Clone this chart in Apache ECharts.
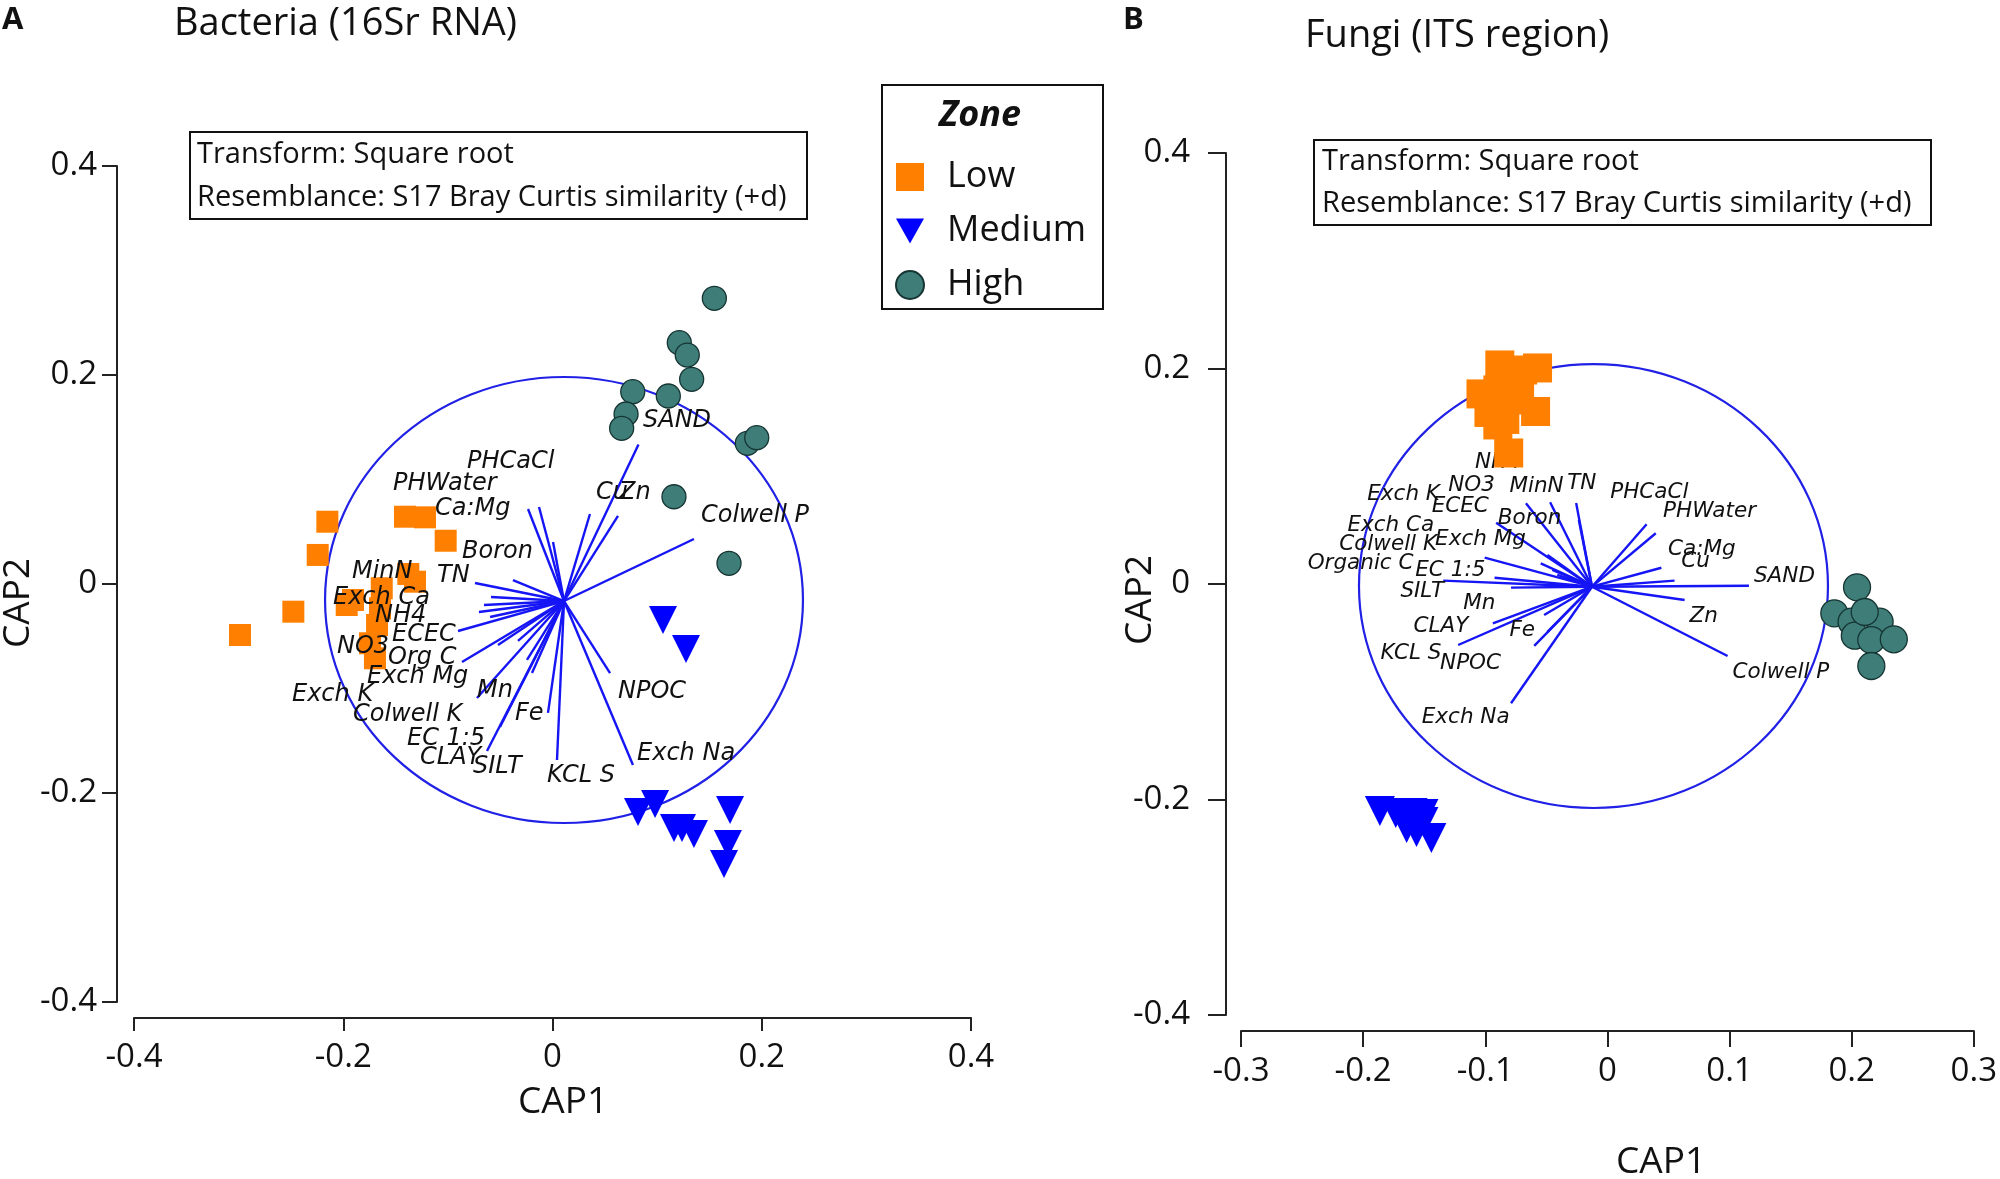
<!DOCTYPE html>
<html><head><meta charset="utf-8">
<script src="https://cdn.jsdelivr.net/npm/echarts@6/dist/echarts.min.js"></script>
<style>html,body{margin:0;padding:0;background:#fff}#c{width:2000px;height:1179px}</style>
</head><body><div id="c"></div><script>
// ---------- Panel A: Bacteria ----------
const bactLow = [[-0.2987,-0.0488],[-0.2477,-0.0265],[-0.2244,0.0278],[-0.2152,0.0596],[-0.1410,0.0644],[-0.1219,0.0638],[-0.1021,0.0414],[-0.1378,0.0096],[-0.1314,0.0022],[-0.1632,-0.0041],[-0.1907,-0.0153],[-0.1967,-0.0201],[-0.1649,-0.0233],[-0.1677,-0.0392],[-0.1744,-0.0567],[-0.1697,-0.0711]];
const bactMedium = [[0.1056,-0.0344],[0.1276,-0.0622],[0.0817,-0.2182],[0.0980,-0.2105],[0.1161,-0.2335],[0.1238,-0.2335],[0.1352,-0.2392],[0.1697,-0.2163],[0.1677,-0.2488],[0.1639,-0.2679]];
const bactHigh = [[0.1547,0.2734],[0.1212,0.2309],[0.1288,0.2191],[0.1330,0.1959],[0.0767,0.1840],[0.1107,0.1799],[0.0703,0.1627],[0.0661,0.1490],[0.1862,0.1346],[0.1952,0.1400],[0.1161,0.0835],[0.1687,0.0198]];
const bactOrigin = [0.0110, -0.0163];
const bactCircle = [0.0110, -0.0153, 0.2284, 0.2134];
const bactVarNames = ['SAND','Cu','Zn','Colwell P','PHCaCl','PHWater','Ca:Mg','Boron','TN','MinN','Exch Ca','NH4','ECEC','NO3','Org C','Exch Mg','Exch K','Colwell K','Mn','EC 1:5','CLAY','SILT','Fe','KCL S','NPOC','Exch Na'];
const bactVarEnds = [[0.0822,0.1335],[0.0358,0.0670],[0.0626,0.0651],[0.1352,0.0431],[-0.0129,0.0737],[-0.0234,0.0718],[0.0005,0.0402],[-0.0378,0.0038],[-0.0741,0.0010],[-0.0588,-0.0124],[-0.0655,-0.0201],[-0.0703,-0.0268],[-0.0903,-0.0450],[-0.0597,-0.0316],[-0.0865,-0.0746],[-0.0521,-0.0584],[-0.0330,-0.0545],[-0.0244,-0.0727],[-0.0722,-0.1091],[-0.0196,-0.0852],[-0.0626,-0.1598],[-0.0502,-0.1368],[-0.0043,-0.1234],[0.0043,-0.1684],[0.0550,-0.0852],[0.0769,-0.1732]];
const bactLabelAt = [[0.0865,0.1560],[0.0416,0.0871],[0.0636,0.0871],[0.1419,0.0651],[-0.0817,0.1167],[-0.1525,0.0957],[-0.1123,0.0718],[-0.0865,0.0306],[-0.1104,0.0077],[-0.1917,0.0115],[-0.2098,-0.0134],[-0.1697,-0.0306],[-0.1534,-0.0488],[-0.2060,-0.0603],[-0.1572,-0.0708],[-0.1773,-0.0890],[-0.2490,-0.1062],[-0.1907,-0.1254],[-0.0722,-0.1024],[-0.1391,-0.1483],[-0.1266,-0.1665],[-0.0760,-0.1751],[-0.0358,-0.1244],[-0.0053,-0.1837],[0.0626,-0.1033],[0.0808,-0.1627]];
const bactXTicks = {min:-0.4, max:0.4, step:0.2};
const bactYTicks = {min:-0.4, max:0.4, step:0.2};

// ---------- Panel B: Fungi ----------
const fungiLow = [[-0.0881,0.2033],[-0.0694,0.1986],[-0.0572,0.2005],[-0.1035,0.1764],[-0.0897,0.1801],[-0.0719,0.1754],[-0.0970,0.1592],[-0.0588,0.1601],[-0.0840,0.1527],[-0.0897,0.1476],[-0.0808,0.1216],[-0.0775,0.1708]];
const fungiMedium = [[-0.1863,-0.2107],[-0.1733,-0.2125],[-0.1668,-0.2172],[-0.1595,-0.2125],[-0.1506,-0.2135],[-0.1644,-0.2265],[-0.1563,-0.2302],[-0.1441,-0.2358],[-0.1506,-0.2209]];
const fungiHigh = [[0.2044,-0.0031],[0.1858,-0.0272],[0.1999,-0.0350],[0.2229,-0.0350],[0.2026,-0.0480],[0.2161,-0.0520],[0.2345,-0.0513],[0.2161,-0.0761],[0.2107,-0.0260]];
const fungiOrigin = [-0.0126, -0.0025];
const fungiCircle = [-0.0114, -0.0019, 0.1920, 0.2060];
const fungiVarNames = ['SAND','Ca:Mg','Cu','PHWater','PHCaCl','Zn','Colwell P','TN','NH4','MinN','NO3','Boron','Exch K','Exch Mg','ECEC','Exch Ca','Colwell K','EC 1:5','SILT','Organic C','Mn','CLAY','KCL S','Fe','NPOC','Exch Na'];
const fungiVarEnds = [[0.1159,-0.0016],[0.0442,0.0151],[0.0550,0.0031],[0.0396,0.0471],[0.0321,0.0554],[0.0632,-0.0148],[0.0984,-0.0668],[-0.0256,0.0752],[-0.0234,0.0594],[-0.0469,0.0758],[-0.0667,0.0749],[-0.0911,0.0569],[-0.0491,0.0269],[-0.1005,0.0244],[-0.0546,0.0192],[-0.0451,0.0130],[-0.0410,0.0084],[-0.0924,0.0058],[-0.1344,0.0031],[-0.0789,-0.0034],[-0.0938,-0.0365],[-0.1222,-0.0566],[-0.0518,-0.0288],[-0.0599,-0.0575],[-0.0491,-0.0445],[-0.0789,-0.1107]];
const fungiLabelAt = [[0.1200,0.0068],[0.0497,0.0325],[0.0605,0.0213],[0.0456,0.0671],[0.0023,0.0854],[0.0672,-0.0303],[0.1025,-0.0821],[-0.0329,0.0937],[-0.1084,0.1132],[-0.0802,0.0903],[-0.1303,0.0919],[-0.0897,0.0613],[-0.1966,0.0835],[-0.1411,0.0418],[-0.1439,0.0717],[-0.2129,0.0548],[-0.2196,0.0365],[-0.1573,0.0130],[-0.1695,-0.0071],[-0.2454,0.0192],[-0.1181,-0.0176],[-0.1587,-0.0396],[-0.1858,-0.0640],[-0.0802,-0.0427],[-0.1370,-0.0733],[-0.1520,-0.1234]];
const fungiXTicks = {min:-0.3, max:0.3, step:0.1};
const fungiYTicks = {min:-0.4, max:0.4, step:0.2};

const zoneNames = ['Low','Medium','High'];
const annotLines = ['Transform: Square root','Resemblance: S17 Bray Curtis similarity (+d)'];

// ---------- styles ----------
const SANS = '"Open Sans", "Noto Sans", sans-serif';
const ORANGE = '#ff8000', BLUE = '#0000ff', TEAL = '#3f7d79', VEC = '#1515f5';
const TRI_DOWN = 'path://M0,0 L20,0 L10,18 Z';

function ellipseRender(params, api){
  const c = api.coord([api.value(0), api.value(1)]);
  const s = api.size([api.value(2), api.value(3)]);
  return {type:'ellipse', shape:{cx:c[0], cy:c[1], rx:s[0], ry:s[1]}, style:{fill:null, stroke:'#2020e6', lineWidth:2.2}};
}
function vecRender(origin){
  return function(params, api){
    const o = api.coord(origin);
    const e = api.coord([api.value(0), api.value(1)]);
    return {type:'line', shape:{x1:o[0], y1:o[1], x2:e[0], y2:e[1]}, style:{stroke:VEC, lineWidth:2.4}};
  };
}
function labelRender(names, fontSize){
  return function(params, api){
    const p = api.coord([api.value(0), api.value(1)]);
    return {type:'text', x:p[0], y:p[1], style:{text:names[params.dataIndex], fill:'#111',
      font:'italic ' + fontSize + 'px "DejaVu Sans", sans-serif', align:'left', verticalAlign:'middle',
      textAlign:'left', textVerticalAlign:'middle'}};
  };
}
function axisX(t, idx, offset, tickLen, margin){
  return {type:'value', gridIndex:idx, min:t.min, max:t.max, interval:t.step, offset:offset,
    axisLine:{show:true, onZero:false, lineStyle:{color:'#222', width:2}},
    axisTick:{show:true, length:tickLen, lineStyle:{color:'#222', width:2}},
    axisLabel:{show:true, margin:margin, fontSize:33, fontFamily:SANS, color:'#111', showMinLabel:true, showMaxLabel:true},
    splitLine:{show:false}};
}
function axisY(t, idx, offset, tickLen, margin){
  return {type:'value', gridIndex:idx, min:t.min, max:t.max, interval:t.step, offset:offset,
    axisLine:{show:true, onZero:false, lineStyle:{color:'#222', width:2}},
    axisTick:{show:true, length:tickLen, lineStyle:{color:'#222', width:2}},
    axisLabel:{show:true, margin:margin, fontSize:33, fontFamily:SANS, color:'#111', showMinLabel:true, showMaxLabel:true},
    splitLine:{show:false}};
}
function panelSeries(idx, circle, origin, ends, labelAt, names, low, med, high, sizes, labelsOnTop, labelFont){
  const base = {xAxisIndex:idx, yAxisIndex:idx};
  return [
    Object.assign({type:'custom', name:'circle'+idx, renderItem:ellipseRender, data:[circle], z:1, silent:true, encode:{x:0,y:1}}, base),
    Object.assign({type:'custom', name:'vec'+idx, renderItem:vecRender(origin), data:ends, z:2, silent:true}, base),
    Object.assign({type:'custom', name:'lab'+idx, renderItem:labelRender(names, labelFont), data:labelAt, z:labelsOnTop?6:3, silent:true}, base),
    Object.assign({type:'scatter', name:zoneNames[0], data:low, symbol:'rect', symbolSize:sizes[0], itemStyle:{color:ORANGE, opacity:1}, z:4}, base),
    Object.assign({type:'scatter', name:zoneNames[1], data:med, symbol:'triangle', symbolRotate:180, symbolSize:sizes[1], itemStyle:{color:BLUE, opacity:1}, z:4}, base),
    Object.assign({type:'scatter', name:zoneNames[2], data:high, symbol:'circle', symbolSize:sizes[2], itemStyle:{color:TEAL, borderColor:'#153533', borderWidth:1.3, opacity:1}, z:4}, base)
  ];
}

function txt(x, y, text, size, extra){
  return {type:'text', x:x, y:y, style:Object.assign({text:text, fill:'#111', font:size+'px '+SANS, textAlign:'left', textVerticalAlign:'middle', align:'left', verticalAlign:'middle'}, extra||{})};
}

const graphics = [
  txt(2, 20, 'A', 31, {font:'bold 31px '+SANS}),
  txt(1123, 20, 'B', 31, {font:'bold 31px '+SANS}),
  txt(174, 24, 'Bacteria (16Sr RNA)', 38),
  txt(1305, 36, 'Fungi (ITS region)', 38),
  {type:'rect', shape:{x:190, y:132, width:617, height:87}, style:{fill:'#fff', stroke:'#111', lineWidth:2}, z:10},
  Object.assign(txt(197, 155, annotLines[0], 29), {z:11}),
  Object.assign(txt(197, 198, annotLines[1], 29), {z:11}),
  {type:'rect', shape:{x:1314, y:140, width:617, height:85}, style:{fill:'#fff', stroke:'#111', lineWidth:2}, z:10},
  Object.assign(txt(1322, 162, annotLines[0], 29), {z:11}),
  Object.assign(txt(1322, 204, annotLines[1], 29), {z:11}),
  {type:'rect', shape:{x:882, y:85, width:221, height:224}, style:{fill:'#fff', stroke:'#111', lineWidth:2}, z:10},
  Object.assign(txt(980, 116, 'Zone', 36, {font:'italic bold 36px '+SANS, textAlign:'center', align:'center'}), {z:11}),
  txt(563, 1102, 'CAP1', 37, {textAlign:'center', align:'center'}),
  txt(1661, 1162, 'CAP1', 37, {textAlign:'center', align:'center'}),
  Object.assign(txt(18, 603, 'CAP2', 37, {textAlign:'center', align:'center'}), {rotation:Math.PI/2}),
  Object.assign(txt(1140, 600, 'CAP2', 37, {textAlign:'center', align:'center'}), {rotation:Math.PI/2})
];

const chart = echarts.init(document.getElementById('c'), null, {renderer:'canvas'});
chart.setOption({
  backgroundColor:'#fff',
  animation:false,
  grid:[
    {left:134, top:166, width:837, height:836},
    {left:1241, top:153, width:739, height:862}
  ],
  xAxis:[axisX(bactXTicks, 0, 16, 13, 23), axisX(fungiXTicks, 1, 16, 16, 24)],
  yAxis:[axisY(bactYTicks, 0, 17, 15, 20), axisY(fungiYTicks, 1, 15, 18, 36)],
  legend:{
    show:true, orient:'vertical', left:895, top:157, padding:0, itemGap:14, itemWidth:28, itemHeight:28,
    selectedMode:false, z:12,
    textStyle:{fontSize:36, fontFamily:SANS, color:'#111', lineHeight:40, padding:[0,0,0,18]},
    data:[{name:'Low', icon:'rect'}, {name:'Medium', icon:TRI_DOWN}, {name:'High', icon:'circle'}]
  },
  graphic:graphics,
  series:[].concat(
    panelSeries(0, bactCircle, bactOrigin, bactVarEnds, bactLabelAt, bactVarNames, bactLow, bactMedium, bactHigh, [22,28,24], true, 24),
    panelSeries(1, fungiCircle, fungiOrigin, fungiVarEnds, fungiLabelAt, fungiVarNames, fungiLow, fungiMedium, fungiHigh, [29,30,27], false, 21.5)
  )
});
</script></body></html>
